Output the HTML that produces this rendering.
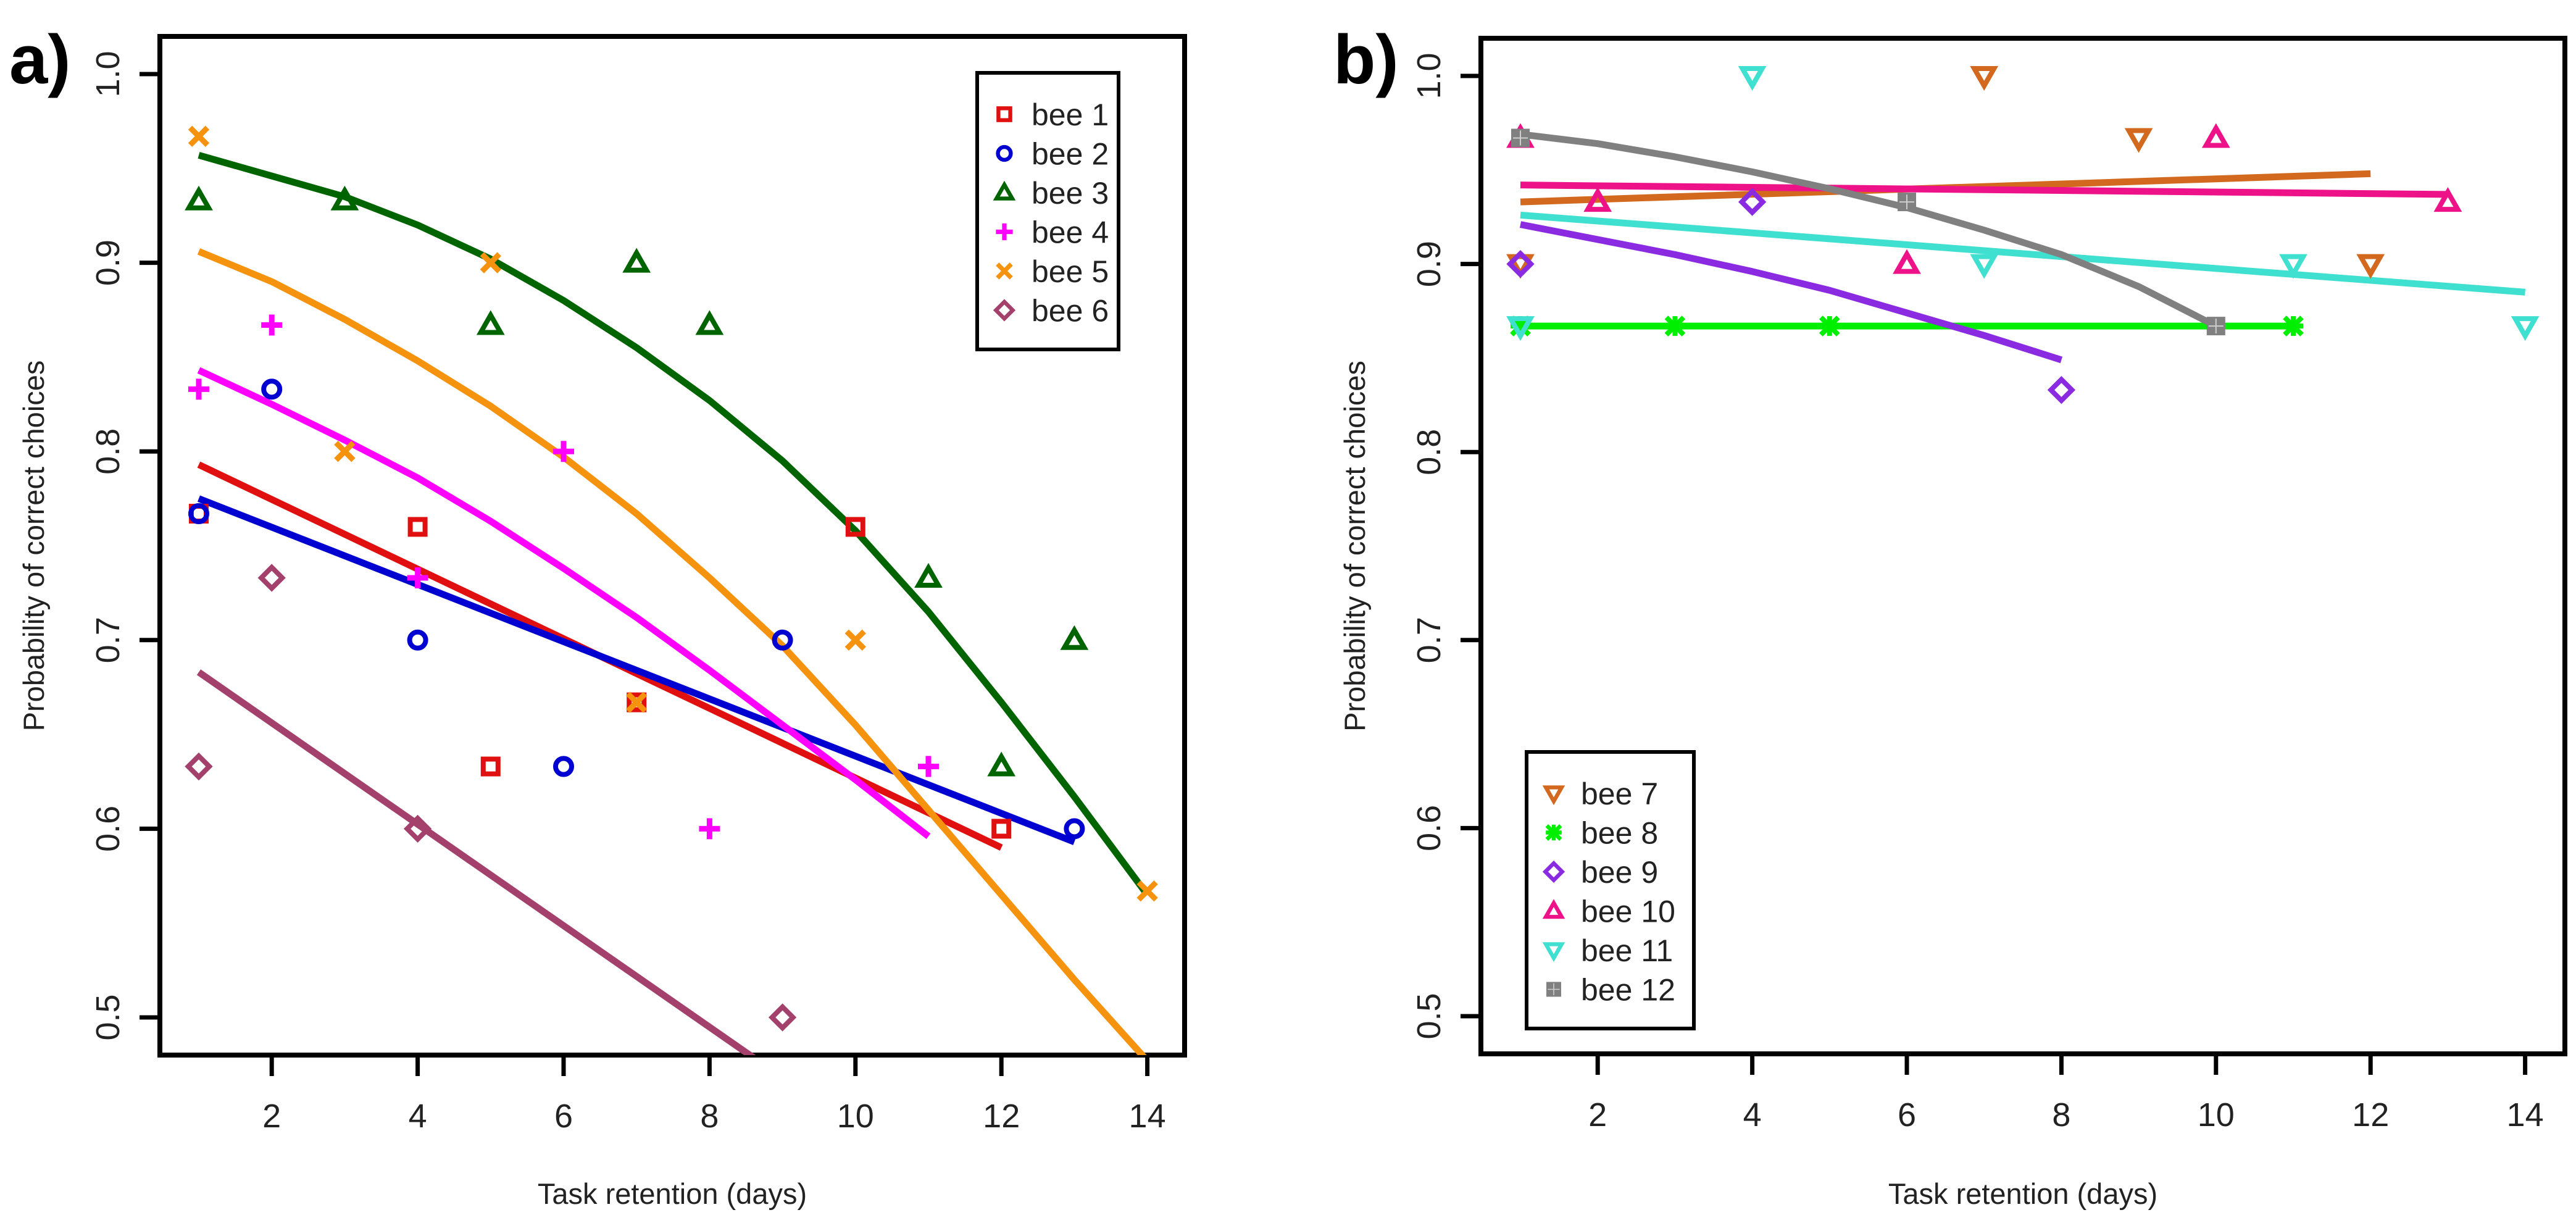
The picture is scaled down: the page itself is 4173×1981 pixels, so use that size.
<!DOCTYPE html>
<html><head><meta charset="utf-8"><style>
html,body{margin:0;padding:0;background:#fff;}
svg{display:block;font-family:"Liberation Sans",sans-serif;}
</style></head><body>
<svg id="chart" width="4173" height="1981" viewBox="0 0 4173 1981" xmlns="http://www.w3.org/2000/svg">
<defs>
<clipPath id="clipA"><rect x="259" y="59" width="1660" height="1650"/></clipPath>
<clipPath id="clipB"><rect x="2399" y="62" width="1756" height="1645"/></clipPath>
</defs>
<g id="panelA"></g>
<g id="panelB"></g>
</svg>
<script>
// ---- Panel a data ----
const beesA = ["bee 1","bee 2","bee 3","bee 4","bee 5","bee 6"];
const colorsA = ["#e01010","#0000d0","#006400","#ff00ff","#f5920e","#a3406b"];
const shapesA = ["square","circle","triangle","plus","cross","diamond"];
const ptsX_A = [[1,4,5,7,10,12],[1,2,4,6,9,13],[1,3,5,7,8,11,12,13],[1,2,4,6,8,11],[1,3,5,7,10,14],[1,2,4,9]];
const ptsY_A = [[0.767,0.76,0.633,0.667,0.76,0.6],[0.767,0.833,0.7,0.633,0.7,0.6],[0.933,0.933,0.867,0.9,0.867,0.733,0.633,0.7],[0.833,0.867,0.733,0.8,0.6,0.633],[0.967,0.8,0.9,0.667,0.7,0.567],[0.633,0.733,0.6,0.5]];
const fitX_A = [[1,12],[1,13],[1,2,3,4,5,6,7,8,9,10,11,12,13,14],[1,2,3,4,5,6,7,8,9,10,11],[1,2,3,4,5,6,7,8,9,10,11,12,13,14],[1,9]];
const fitY_A = [[0.793,0.59],[0.775,0.593],[0.957,0.946,0.935,0.92,0.902,0.88,0.855,0.827,0.795,0.758,0.715,0.667,0.617,0.565],[0.843,0.825,0.806,0.786,0.763,0.738,0.712,0.684,0.655,0.626,0.596],[0.906,0.89,0.87,0.848,0.824,0.797,0.767,0.733,0.697,0.655,0.61,0.565,0.52,0.477],[0.683,0.468]];
// ---- Panel b data ----
const beesB = ["bee 7","bee 8","bee 9","bee 10","bee 11","bee 12"];
const colorsB = ["#d2691e","#00ee00","#8a2be2","#ee1289","#40e0d0","#808080"];
const shapesB = ["down","asterisk","diamond","triangle","down","sqplus"];
const ptsX_B = [[1,7,9,12],[1,3,5,11],[1,4,8],[1,2,6,10,13],[1,4,7,11,14],[1,6,10]];
const ptsY_B = [[0.9,1.0,0.967,0.9],[0.867,0.867,0.867,0.867],[0.9,0.933,0.833],[0.967,0.933,0.9,0.967,0.933],[0.867,1.0,0.9,0.9,0.867],[0.967,0.933,0.867]];
const fitX_B = [[1,12],[1,11],[1,2,3,4,5,6,7,8],[1,13],[1,14],[1,2,3,4,5,6,7,8,9,10]];
const fitY_B = [[0.933,0.948],[0.867,0.867],[0.921,0.913,0.905,0.896,0.886,0.874,0.862,0.849],[0.942,0.937],[0.926,0.885],[0.969,0.964,0.957,0.949,0.94,0.93,0.918,0.905,0.888,0.867]];
const xTicks = [2,4,6,8,10,12,14];
const yTicks = [0.5,0.6,0.7,0.8,0.9,1.0];
const yTickLabels = ["0.5","0.6","0.7","0.8","0.9","1.0"];

const NS = "http://www.w3.org/2000/svg";
function mk(parent, tag, attrs){
  const e = document.createElementNS(NS, tag);
  for (const k in attrs) e.setAttribute(k, attrs[k]);
  parent.appendChild(e); return e;
}
function marker(g, shape, cx, cy, col){
  const r = 14, sw = 8;
  let e;
  if (shape==="square") e = mk(g,"rect",{x:cx-r+2,y:cy-r+2,width:2*r-4,height:2*r-4,fill:"none",stroke:col,"stroke-width":sw});
  else if (shape==="circle") e = mk(g,"circle",{cx:cx,cy:cy,r:r-1,fill:"none",stroke:col,"stroke-width":sw});
  else if (shape==="triangle") e = mk(g,"polygon",{points:`${cx},${cy-r-2} ${cx+r+2},${cy+r-2} ${cx-r-2},${cy+r-2}`,fill:"none",stroke:col,"stroke-width":sw});
  else if (shape==="down") e = mk(g,"polygon",{points:`${cx},${cy+r+2} ${cx+r+2},${cy-r+2} ${cx-r-2},${cy-r+2}`,fill:"none",stroke:col,"stroke-width":sw});
  else if (shape==="diamond") e = mk(g,"polygon",{points:`${cx},${cy-r-3} ${cx+r+3},${cy} ${cx},${cy+r+3} ${cx-r-3},${cy}`,fill:"none",stroke:col,"stroke-width":sw});
  else if (shape==="plus") e = mk(g,"path",{d:`M${cx-r-3},${cy}H${cx+r+3}M${cx},${cy-r-3}V${cy+r+3}`,stroke:col,"stroke-width":sw+1,fill:"none"});
  else if (shape==="cross") e = mk(g,"path",{d:`M${cx-r},${cy-r}L${cx+r},${cy+r}M${cx-r},${cy+r}L${cx+r},${cy-r}`,stroke:col,"stroke-width":sw+1,fill:"none"});
  else if (shape==="asterisk") e = mk(g,"path",{d:`M${cx-r-2},${cy}H${cx+r+2}M${cx},${cy-r-2}V${cy+r+2}M${cx-r},${cy-r}L${cx+r},${cy+r}M${cx-r},${cy+r}L${cx+r},${cy-r}`,stroke:col,"stroke-width":sw,fill:"none"});
  else if (shape==="sqplus"){ e = mk(g,"g",{});
    mk(e,"rect",{x:cx-r+1,y:cy-r+1,width:2*r-2,height:2*r-2,fill:col,stroke:col,"stroke-width":4});
    mk(e,"path",{d:`M${cx-r+2},${cy}H${cx+r-2}M${cx},${cy-r+2}V${cy+r-2}`,stroke:"#cfcfcf","stroke-width":2});}
  return e;
}
function panel(cfg){
  const g = document.getElementById(cfg.id);
  const X = v => cfg.x1 + (v-1)*cfg.xu;
  const Y = v => cfg.y10 + (1-v)*cfg.yu;
  const box = mk(g,"rect",{x:cfg.bx,y:cfg.by,width:cfg.bw,height:cfg.bh,fill:"none",stroke:"#000","stroke-width":8});
  
  
  xTicks.forEach(t=>{
    const tk = mk(g,"line",{x1:X(t),x2:X(t),y1:cfg.by+cfg.bh,y2:cfg.by+cfg.bh+34,stroke:"#000","stroke-width":7});
    
    
    const lb = mk(g,"text",{x:X(t),y:cfg.by+cfg.bh+117,"text-anchor":"middle","font-size":54,fill:"#222"});
    lb.textContent = t;
    
    
  });
  yTicks.forEach((t,i)=>{
    const tk = mk(g,"line",{x1:cfg.bx-33,x2:cfg.bx,y1:Y(t),y2:Y(t),stroke:"#000","stroke-width":7});
    
    
    const lb = mk(g,"text",{x:0,y:0,"text-anchor":"middle","font-size":54,fill:"#222",transform:`translate(${cfg.bx-66},${Y(t)}) rotate(-90)`});
    lb.textContent = yTickLabels[i];
    
    
  });
  const yt = mk(g,"text",{x:0,y:0,"text-anchor":"middle","font-size":47,fill:"#222",transform:`translate(${cfg.bx-188},${cfg.by+cfg.bh/2}) rotate(-90)`});
  yt.textContent = "Probability of correct choices";
  
  
  const xt = mk(g,"text",{x:cfg.bx+cfg.bw/2,y:1950,"text-anchor":"middle","font-size":47,fill:"#222"});
  xt.textContent = "Task retention (days)";
  
  
  const pl = mk(g,"text",{x:cfg.lx,y:135,"font-size":112,"font-weight":"bold",fill:"#000"});
  pl.textContent = cfg.label;
  
  
  const clipG = mk(g,"g",{"clip-path":`url(#${cfg.clip})`});
  cfg.fitX.forEach((xs,i)=>{
    const d = xs.map((x,j)=>(j?"L":"M")+X(x)+","+Y(cfg.fitY[i][j])).join("");
    const p = mk(clipG,"path",{d:d,fill:"none",stroke:cfg.colors[i],"stroke-width":11,"stroke-linecap":"butt","stroke-linejoin":"round"});
    
    
  });
  cfg.ptsX.forEach((xs,i)=>{
    xs.forEach((x,j)=>{
      const m = marker(clipG,cfg.shapes[i],X(x),Y(cfg.ptsY[i][j]),cfg.colors[i]);
      
      
    });
  });
  const lg = mk(g,"g",{});
  
  
  mk(lg,"rect",{x:cfg.lgx,y:cfg.lgy,width:cfg.lgw,height:cfg.lgh,fill:"#fff",stroke:"#000","stroke-width":6});
  cfg.bees.forEach((b,i)=>{
    const cy = cfg.lgy + 67 + i*63.5;
    const e = mk(lg,"g",{});
    
    
    const m = marker(e,cfg.shapes[i],cfg.lgx+44,cy,cfg.colors[i]);
    m.setAttribute('transform',`translate(${cfg.lgx+44},${cy}) scale(0.8) translate(${-(cfg.lgx+44)},${-cy})`);
    const t = mk(e,"text",{x:cfg.lgx+88,y:cy+18,"font-size":50,fill:"#222"});
    t.textContent = b;
  });
}
panel({id:"panelA",clip:"clipA",label:"a)",lx:15,bx:259,by:59,bw:1660,bh:1650,x1:322,xu:118.2,y10:120,yu:3056,
  bees:beesA,colors:colorsA,shapes:shapesA,ptsX:ptsX_A,ptsY:ptsY_A,fitX:fitX_A,fitY:fitY_A,
  lgx:1583,lgy:118,lgw:229,lgh:448});
panel({id:"panelB",clip:"clipB",label:"b)",lx:2160,bx:2399,by:62,bw:1756,bh:1645,x1:2463,xu:125.2,y10:123,yu:3046,
  bees:beesB,colors:colorsB,shapes:shapesB,ptsX:ptsX_B,ptsY:ptsY_B,fitX:fitX_B,fitY:fitY_B,
  lgx:2473,lgy:1218,lgw:271,lgh:448});
</script>
</body></html>
